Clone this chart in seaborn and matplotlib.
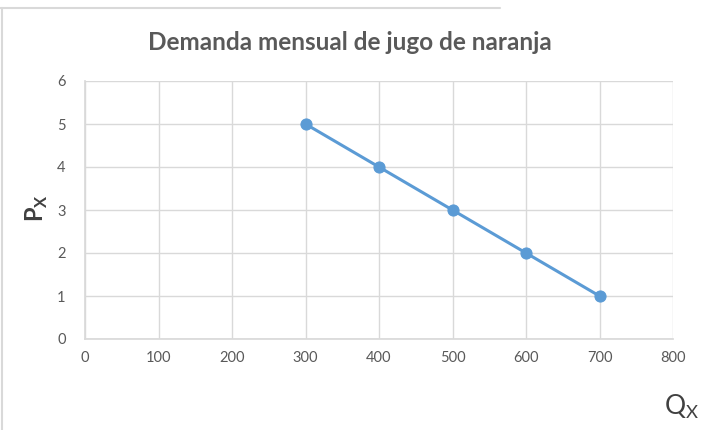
import matplotlib
matplotlib.use("Agg")
import matplotlib.pyplot as plt
import seaborn as sns
import pandas as pd
from matplotlib.lines import Line2D

quantity = [300, 400, 500, 600, 700]
price = [5, 4, 3, 2, 1]
x_ticks = [0, 100, 200, 300, 400, 500, 600, 700, 800]
y_ticks = [0, 1, 2, 3, 4, 5, 6]
title = "Demanda mensual de jugo de naranja"

sns.set_theme(style="white")
plt.rcParams['font.family'] = ['Lato', 'DejaVu Sans']

df = pd.DataFrame({"Q": quantity, "P": price})

fig = plt.figure(figsize=(7.02, 4.30), dpi=100)
ax = fig.add_axes([85/702, 1-339/430, (673-85)/702, (339-81)/430])

sns.lineplot(data=df, x="Q", y="P", ax=ax, color="#5B9BD5", linewidth=2.2,
             marker="o", markersize=8, markeredgecolor="#5B9BD5", markerfacecolor="#5B9BD5")

ax.set_xlim(0, 800)
ax.set_ylim(0, 6)
ax.set_xticks(x_ticks)
ax.set_yticks(y_ticks)
ax.grid(True, color="#D9D9D9", linewidth=1)
ax.set_axisbelow(True)
for s in ["top", "right"]:
    ax.spines[s].set_visible(False)
ax.spines["left"].set_color("#D9D9D9")
ax.spines["bottom"].set_color("#D9D9D9")
ax.tick_params(axis="both", length=0, colors="#595959", labelsize=10.5)
ax.tick_params(axis="x", pad=9)
ax.tick_params(axis="y", pad=14)
ax.set_xlabel("")
ax.set_ylabel("")

fig.text(350/702, 1-42/430, title, ha="center", va="center", fontsize=17.5,
         fontweight="bold", color="#595959")
fig.text(37/702, 1-208/430, r"P$_\mathregular{X}$", ha="center", va="center",
         rotation=90, fontsize=17, fontweight="bold", color="#404040")
fig.text(682/702, 1-407/430, r"Q$_\mathregular{X}$", ha="center", va="center",
         fontsize=19, color="#404040")

fig.add_artist(Line2D([0, 500/702], [1-8/430, 1-8/430], transform=fig.transFigure,
                      color="#D9D9D9", linewidth=1.5))
fig.add_artist(Line2D([1.5/702, 1.5/702], [0, 1-8/430], transform=fig.transFigure,
                      color="#D9D9D9", linewidth=1.5))

fig.savefig("out.png", dpi=100)
